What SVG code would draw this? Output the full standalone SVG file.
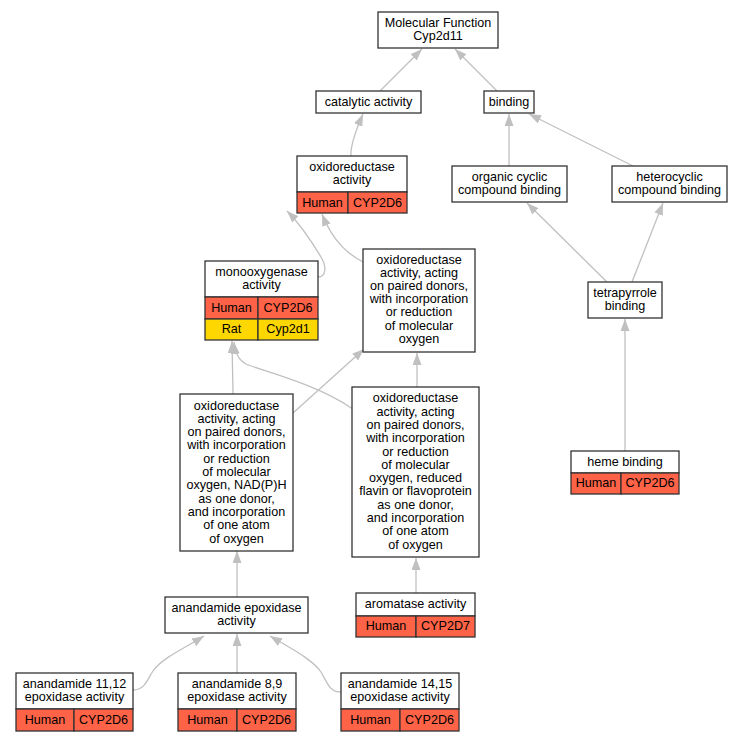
<svg xmlns="http://www.w3.org/2000/svg" width="743" height="741" viewBox="0 0 743 741">
<style>
text{font-family:"Liberation Sans",Arial,sans-serif;font-size:12.6px;text-anchor:middle;fill:#000}
.b{fill:#fff;stroke:#333;stroke-width:1.3}
.h{fill:#ff6347;stroke:#333;stroke-width:1.3}
.r{fill:#ffd700;stroke:#333;stroke-width:1.3}
.e{fill:none;stroke:#c0c0c0;stroke-width:1.3;marker-end:url(#a)}
</style>
<defs>
<marker id="a" viewBox="0 0 12 9" refX="12" refY="4.5" markerWidth="12" markerHeight="9" markerUnits="userSpaceOnUse" orient="auto">
<path d="M0,0 L12,4.5 L0,9 z" fill="#c0c0c0"/>
</marker>
</defs>
<rect width="743" height="741" fill="#fff"/>
<g id="edges">
<path class="e" d="M380,91 L422,49"/>
<path class="e" d="M497,91 L455,49"/>
<path class="e" d="M351,156 C350,145 356,130 363,114"/>
<path class="e" d="M509,166 L509,114"/>
<path class="e" d="M633,166 L529,114"/>
<path class="e" d="M318,277 C326,277 327,267 321,257 C312,242 302,226 287,211"/>
<path class="e" d="M363,262 C350,255 334,244 322,214"/>
<path class="e" d="M607,282 L527,203"/>
<path class="e" d="M632,282 L663,203"/>
<path class="e" d="M625,451 L625,319"/>
<path class="e" d="M233,394 L232,341"/>
<path class="e" d="M353,409 C315,383 262,371 246,364 C238,360 235,352 234,342"/>
<path class="e" d="M293,413 L364,349"/>
<path class="e" d="M417,387 L417,353"/>
<path class="e" d="M237,597 L237,551"/>
<path class="e" d="M416,593 L416,558"/>
<path class="e" d="M133,690 C145,690 147,680 153,671 C162,658 185,648 204,636"/>
<path class="e" d="M237,673 L237,634"/>
<path class="e" d="M341,692 C329,692 327,682 321,672 C312,659 290,648 270,636"/>
</g>
<g id="n_mf">
<rect class="b" x="378" y="12" width="120" height="36"/>
<text x="438" y="26.9">Molecular Function</text>
<text x="438" y="40.2">Cyp2d11</text>
</g>
<g id="n_cat">
<rect class="b" x="316" y="91" width="105" height="22"/>
<text x="368.5" y="105.5">catalytic activity</text>
</g>
<g id="n_bind">
<rect class="b" x="484" y="91" width="50" height="22"/>
<text x="509" y="105.5">binding</text>
</g>
<g id="n_oxred">
<rect class="b" x="297" y="156" width="110" height="36"/>
<rect class="h" x="297" y="192" width="51" height="21"/>
<rect class="h" x="348" y="192" width="59" height="21"/>
<text x="352" y="170.9">oxidoreductase</text>
<text x="352" y="184.2">activity</text>
<text x="322.5" y="206.5">Human</text>
<text x="377.5" y="206.5">CYP2D6</text>
</g>
<g id="n_org">
<rect class="b" x="452" y="166" width="115" height="36"/>
<text x="509.5" y="180.9">organic cyclic</text>
<text x="509.5" y="194.2">compound binding</text>
</g>
<g id="n_het">
<rect class="b" x="612" y="166" width="115" height="36"/>
<text x="669.5" y="180.9">heterocyclic</text>
<text x="669.5" y="194.2">compound binding</text>
</g>
<g id="n_mono">
<rect class="b" x="205" y="261" width="113" height="36"/>
<rect class="h" x="205" y="297" width="53" height="22"/>
<rect class="h" x="258" y="297" width="60" height="22"/>
<rect class="r" x="205" y="319" width="53" height="21"/>
<rect class="r" x="258" y="319" width="60" height="21"/>
<text x="261.5" y="275.9">monooxygenase</text>
<text x="261.5" y="289.2">activity</text>
<text x="231.5" y="311.5">Human</text>
<text x="288" y="311.5">CYP2D6</text>
<text x="231.5" y="333">Rat</text>
<text x="288" y="333">Cyp2d1</text>
</g>
<g id="n_boxa">
<rect class="b" x="363" y="249" width="112" height="103"/>
<text x="419" y="263.6">oxidoreductase</text>
<text x="419" y="276.8">activity, acting</text>
<text x="419" y="290">on paired donors,</text>
<text x="419" y="303.2">with incorporation</text>
<text x="419" y="316.4">or reduction</text>
<text x="419" y="329.6">of molecular</text>
<text x="419" y="342.8">oxygen</text>
</g>
<g id="n_tetra">
<rect class="b" x="588" y="282" width="74" height="36"/>
<text x="625" y="296.9">tetrapyrrole</text>
<text x="625" y="310.2">binding</text>
</g>
<g id="n_nad">
<rect class="b" x="180" y="394" width="113" height="157"/>
<text x="236.5" y="409.5">oxidoreductase</text>
<text x="236.5" y="422.8">activity, acting</text>
<text x="236.5" y="436.1">on paired donors,</text>
<text x="236.5" y="449.4">with incorporation</text>
<text x="236.5" y="462.7">or reduction</text>
<text x="236.5" y="476">of molecular</text>
<text x="236.5" y="489.3">oxygen, NAD(P)H</text>
<text x="236.5" y="502.6">as one donor,</text>
<text x="236.5" y="515.9">and incorporation</text>
<text x="236.5" y="529.2">of one atom</text>
<text x="236.5" y="542.5">of oxygen</text>
</g>
<g id="n_flav">
<rect class="b" x="352" y="387" width="127" height="170"/>
<text x="415.5" y="402.3">oxidoreductase</text>
<text x="415.5" y="415.6">activity, acting</text>
<text x="415.5" y="428.9">on paired donors,</text>
<text x="415.5" y="442.2">with incorporation</text>
<text x="415.5" y="455.5">or reduction</text>
<text x="415.5" y="468.8">of molecular</text>
<text x="415.5" y="482.1">oxygen, reduced</text>
<text x="415.5" y="495.4">flavin or flavoprotein</text>
<text x="415.5" y="508.7">as one donor,</text>
<text x="415.5" y="522">and incorporation</text>
<text x="415.5" y="535.3">of one atom</text>
<text x="415.5" y="548.6">of oxygen</text>
</g>
<g id="n_heme">
<rect class="b" x="571" y="451" width="108" height="22"/>
<rect class="h" x="571" y="473" width="50" height="21"/>
<rect class="h" x="621" y="473" width="58" height="21"/>
<text x="625" y="465.5">heme binding</text>
<text x="596" y="487">Human</text>
<text x="650" y="487">CYP2D6</text>
</g>
<g id="n_epox">
<rect class="b" x="165" y="597" width="143" height="36"/>
<text x="236.5" y="611.9">anandamide epoxidase</text>
<text x="236.5" y="625.2">activity</text>
</g>
<g id="n_arom">
<rect class="b" x="356" y="593" width="119" height="23"/>
<rect class="h" x="356" y="616" width="60" height="21"/>
<rect class="h" x="416" y="616" width="59" height="21"/>
<text x="415.5" y="608">aromatase activity</text>
<text x="386" y="630">Human</text>
<text x="445.5" y="630">CYP2D7</text>
</g>
<g id="n_a1112">
<rect class="b" x="16" y="673" width="117" height="36"/>
<rect class="h" x="16" y="709" width="58" height="22"/>
<rect class="h" x="74" y="709" width="59" height="22"/>
<text x="74.5" y="687.9">anandamide 11,12</text>
<text x="74.5" y="701.2">epoxidase activity</text>
<text x="45" y="724">Human</text>
<text x="103.5" y="724">CYP2D6</text>
</g>
<g id="n_a89">
<rect class="b" x="178" y="673" width="118" height="36"/>
<rect class="h" x="178" y="709" width="59" height="22"/>
<rect class="h" x="237" y="709" width="59" height="22"/>
<text x="237" y="687.9">anandamide 8,9</text>
<text x="237" y="701.2">epoxidase activity</text>
<text x="207.5" y="724">Human</text>
<text x="266.5" y="724">CYP2D6</text>
</g>
<g id="n_a1415">
<rect class="b" x="341" y="673" width="118" height="36"/>
<rect class="h" x="341" y="709" width="59" height="22"/>
<rect class="h" x="400" y="709" width="59" height="22"/>
<text x="400" y="687.9">anandamide 14,15</text>
<text x="400" y="701.2">epoxidase activity</text>
<text x="370.5" y="724">Human</text>
<text x="429.5" y="724">CYP2D6</text>
</g>
</svg>
